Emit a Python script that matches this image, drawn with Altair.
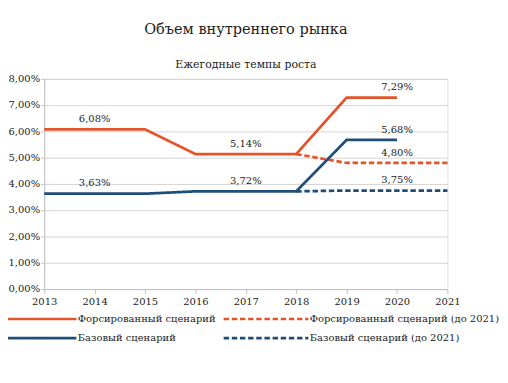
import altair as alt
import pandas as pd

years_forced = [2013, 2014, 2015, 2016, 2017, 2018, 2019, 2020]
forced = [6.08, 6.08, 6.08, 5.14, 5.14, 5.14, 7.29, 7.29]
years_forced_21 = [2018, 2019, 2020, 2021]
forced_21 = [5.14, 4.80, 4.80, 4.80]
years_base = [2013, 2014, 2015, 2016, 2017, 2018, 2019, 2020]
base = [3.63, 3.63, 3.63, 3.72, 3.72, 3.72, 5.68, 5.68]
years_base_21 = [2018, 2019, 2020, 2021]
base_21 = [3.72, 3.75, 3.75, 3.75]

series_names = [
    "Форсированный сценарий",
    "Форсированный сценарий (до 2021)",
    "Базовый сценарий",
    "Базовый сценарий (до 2021)",
]
label_years = [2014, 2017, 2020, 2020, 2014, 2017, 2020, 2020]
label_values = [6.08, 5.14, 7.29, 4.80, 3.63, 3.72, 5.68, 3.75]

rows = []
for name, ys, vs in zip(series_names,
                        [years_forced, years_forced_21, years_base, years_base_21],
                        [forced, forced_21, base, base_21]):
    for y, v in zip(ys, vs):
        rows.append({"series": name, "year": y, "value": v})
df = pd.DataFrame(rows)
labels = pd.DataFrame({"year": label_years, "value": label_values})
labels["text"] = [f"{v:.2f}".replace(".", ",") + "%" for v in label_values]

FONT = "DejaVu Serif"
ORANGE = "#E2552B"
NAVY = "#1F4E79"
FS = 11

x = alt.X("year:Q", scale=alt.Scale(domain=[2013, 2021], nice=False, zero=False),
          axis=alt.Axis(values=list(range(2013, 2022)), format="d", title=None,
                        grid=False, domain=True, domainColor="#bfbfbf", ticks=True,
                        tickColor="#bfbfbf", tickSize=5, labelFont=FONT, labelFontSize=FS,
                        labelColor="#222", labelPadding=3, labelFlush=False,
                        labelOverlap=False))
y = alt.Y("value:Q", scale=alt.Scale(domain=[0, 8], nice=False),
          axis=alt.Axis(values=list(range(0, 9)), title=None, grid=True, gridColor="#d0d0d0",
                        domain=True, domainColor="#bfbfbf", ticks=True, tickColor="#bfbfbf",
                        tickSize=4, labelFont=FONT, labelFontSize=FS, labelColor="#222",
                        labelOverlap=False, labelPadding=1,
                        labelExpr="replace(format(datum.value, '.2f'), '.', ',') + '%'"))

lines = alt.Chart(df).mark_line(strokeWidth=3).encode(
    x=x, y=y,
    color=alt.Color("series:N", sort=series_names,
                    scale=alt.Scale(domain=series_names, range=[ORANGE, ORANGE, NAVY, NAVY]),
                    legend=alt.Legend(title=None, orient="none", legendX=23, legendY=258,
                                      columns=2, direction="horizontal",
                                      symbolType="M-16,0H1", symbolSize=121, symbolStrokeWidth=3,
                                      symbolFillColor="transparent",
                                      labelFont=FONT, labelFontSize=FS, labelColor="#222",
                                      columnPadding=2, rowPadding=8, labelLimit=0,
                                      labelOffset=0)),
    strokeDash=alt.StrokeDash("series:N", sort=series_names,
                              scale=alt.Scale(domain=series_names,
                                              range=[[1, 0], [6, 3], [1, 0], [6, 3]])),
    detail="series:N",
)

text = alt.Chart(labels).mark_text(font=FONT, fontSize=FS, color="#222", dy=-11).encode(
    x=x, y=y, text="text:N")

chart = alt.layer(lines, text).properties(
    width=445, height=232,
    title=alt.TitleParams("Объем внутреннего рынка", subtitle="Ежегодные темпы роста",
                          font=FONT, fontSize=16, fontWeight="normal", color="#222",
                          subtitleFont=FONT, subtitleFontSize=12, subtitleColor="#222",
                          subtitlePadding=26, anchor="middle", offset=4),
).configure_view(stroke="#d0d0d0").configure(
    font=FONT, padding={"left": 0, "right": 0, "top": -3, "bottom": 0})

chart.save("out.html", embed_options={"renderer": "svg", "actions": False})
